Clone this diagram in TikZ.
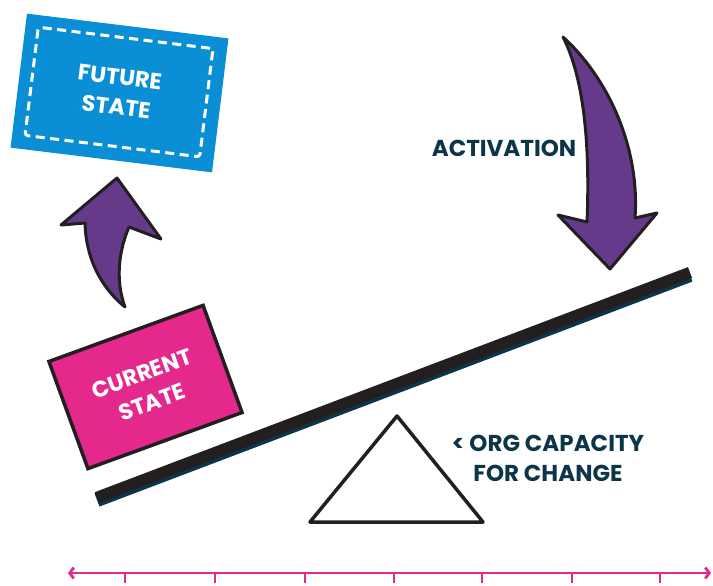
\documentclass[tikz,border=0pt]{standalone}
\usepackage{fontspec}
\newfontfamily\pop{Poppins}
\usetikzlibrary{arrows.meta}
\definecolor{fblue}{HTML}{0A8FD6}
\definecolor{cpink}{HTML}{E5288B}
\definecolor{apurple}{HTML}{653A8B}
\definecolor{tealtxt}{HTML}{0C3548}
\definecolor{barblack}{HTML}{231F20}
\begin{document}
\begin{tikzpicture}[x=1pt,y=-1pt,
  lab/.style={font=\pop\bfseries\fontsize{23}{30}\selectfont, align=center, text=tealtxt, inner sep=0pt},
  boxlab/.style={font=\pop\bfseries\fontsize{22.5}{30}\selectfont, align=center, text=white, inner sep=0pt},
  arrowshape/.style={fill=apurple, draw=barblack, line width=3pt, line join=round},
  axisline/.style={draw=cpink, line width=2.8pt}]
\useasboundingbox (0,0) rectangle (713,586);

% future state
\node[rotate=-7, fill=fblue, minimum width=203pt, minimum height=135pt, inner sep=0pt] (future) at (119.5,93) {};
\node[rotate=-7, draw=white, line width=3pt, dash pattern=on 9pt off 5.5pt, rounded corners=3pt, minimum width=176pt, minimum height=109pt, inner sep=0pt] (futuredash) at (119,92) {};
\node[rotate=-7, boxlab] (futuretxt) at (118,92) {FUTURE\\STATE};

% up arrow
\draw[arrowshape] (117,178) -- (161,239) -- (129,227)
  .. controls (119,250) and (115,280) .. (125,307)
  .. controls (104,290) and (86,262) .. (85,223)
  -- (61,225) -- cycle;

% current state
\node[rotate=20, fill=cpink, draw=barblack, line width=3.5pt, minimum width=164pt, minimum height=114pt, inner sep=0pt] (current) at (145.5,387) {};
\node[rotate=20, boxlab] (currenttxt) at (147,388) {CURRENT\\STATE};

% lever
\coordinate (leverL) at (97,499);
\coordinate (leverR) at (690,274);
\draw[tealtxt, line width=14pt] ([yshift=-1pt]leverL) -- ([yshift=-1pt]leverR);
\draw[barblack, line width=11.5pt] ([yshift=1.5pt]leverL) -- ([yshift=1.5pt]leverR);

% activation arrow
\draw[arrowshape] (563,37) .. controls (610,80) and (640,150) .. (635,218)
  -- (657,213) -- (610,269) -- (558,215) -- (587,222)
  .. controls (590,150) and (585,80) .. cycle;
\node[lab] (activation) at (504,148) {ACTIVATION};

% fulcrum
\coordinate (apex) at (397,416);
\coordinate (baseR) at (483,522);
\coordinate (baseL) at (310,522);
\draw[barblack, line width=3.5pt, line join=round] (apex) -- (baseR) -- (baseL) -- cycle;
\node[lab] (capacity) at (548,458) {< ORG CAPACITY\\FOR CHANGE};

% axis
\coordinate (axL) at (68,573);
\coordinate (axR) at (711,573);
\draw[axisline, {Straight Barb[length=4pt,width=11pt]}-{Straight Barb[length=4pt,width=11pt]}] (axL) -- (axR);
\foreach \x in {125,215,305,394,482,572,660}{
  \draw[axisline] (\x,573) -- (\x,583);
}
\end{tikzpicture}
\end{document}
